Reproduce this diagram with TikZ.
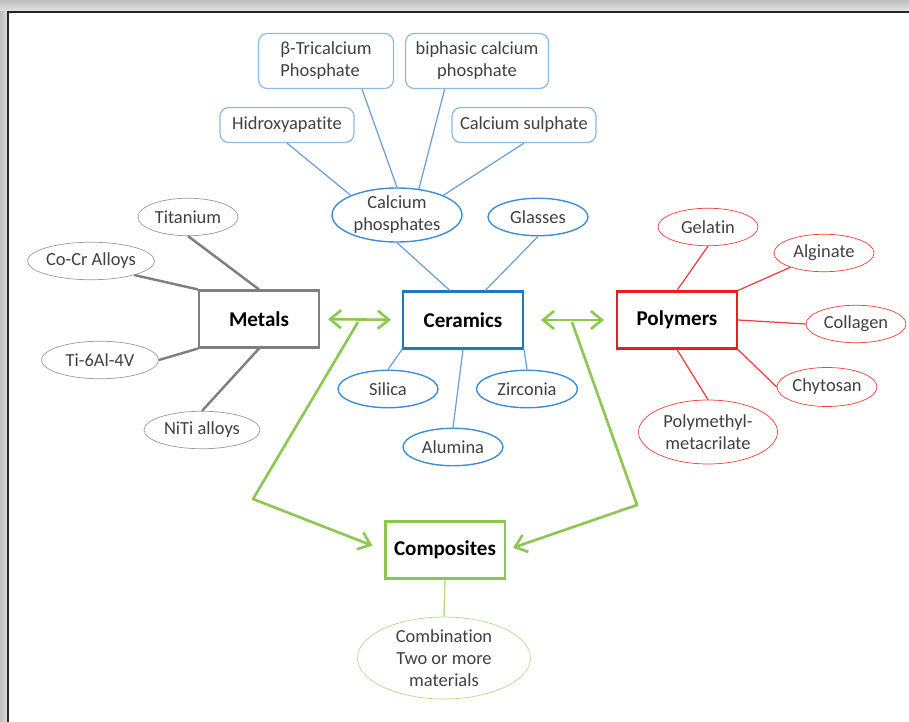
\documentclass[tikz,border=0pt]{standalone}
\usepackage{fontspec}
\setmainfont{Carlito}[RawFeature={-liga;-clig;-dlig}]
\usetikzlibrary{shapes.geometric,arrows.meta}

\definecolor{metgray}{HTML}{7F7F7F}
\definecolor{leafgray}{HTML}{9A9A9A}
\definecolor{cerblue}{HTML}{1F77C8}
\definecolor{leafblue}{HTML}{3C8ED6}
\definecolor{lineblue}{HTML}{6A9FD4}
\definecolor{boxblue}{HTML}{8DBAE2}
\definecolor{polred}{HTML}{EE1C1C}
\definecolor{leafred}{HTML}{F03C3C}
\definecolor{compgreen}{HTML}{8CC851}
\definecolor{lightgreen}{HTML}{B4DC8E}
\definecolor{labelgray}{HTML}{404040}

\begin{document}
\begin{tikzpicture}[x=0.02cm,y=-0.02cm,
  hub node/.style={rectangle,draw,line width=1.2pt,minimum width=2.4cm,minimum height=1.14cm,font=\fontsize{12}{14}\selectfont\bfseries},
  leaf node/.style={ellipse,draw,inner sep=0pt,minimum width=2cm,minimum height=0.75cm,text=labelgray,align=center,font=\fontsize{10.5}{12.5}\selectfont},
  top node/.style={rectangle,rounded corners=5pt,draw=boxblue,line width=0.7pt,inner sep=0pt,minimum height=0.7cm,text=labelgray,align=center,font=\fontsize{10.5}{12.5}\selectfont},
  gray edge/.style={draw=metgray,line width=1.4pt},
  blue edge/.style={draw=lineblue,line width=0.7pt},
  red edge/.style={draw=leafred,line width=0.7pt},
  green arrow/.style={draw=compgreen,line width=1.5pt,line join=round,arrows={-Straight Barb[length=2.2mm,width=3.6mm]}}]

  \useasboundingbox (0,0) rectangle (909,722);
  \shade[top color=gray!50,bottom color=gray!20] (0,0) rectangle (909,12);
  \shade[left color=gray!50,right color=gray!25] (0,12) rectangle (8,722);
  \draw[black!85,line width=1.2pt] (8,722) -- (8,12) -- (909,12);

  \node[hub node,draw=metgray] (met) at (259,319) {Metals};
  \node[hub node,draw=cerblue] (cer) at (463,320) {Ceramics};
  \node[hub node,draw=polred] (pol) at (677,320) {Polymers};
  \node[hub node,draw=compgreen,line width=1.7pt] (comp) at (445,550) {Composites};

  \node[leaf node,draw=leafgray] (tit) at (188,217) {Titanium};
  \node[leaf node,draw=leafgray,minimum width=2.32cm] (cocr) at (91,261) {Co-Cr Alloys};
  \node[leaf node,draw=leafgray,minimum width=2.34cm] (ti64) at (100,360) {Ti-6Al-4V};
  \node[leaf node,draw=leafgray,minimum width=2.32cm] (niti) at (202,430) {NiTi alloys};

  \node[top node,align=left,minimum width=2.7cm,minimum height=1.1cm] (btcp) at (326,61) {β-Tricalcium\\Phosphate};
  \node[top node,minimum width=2.86cm,minimum height=1.1cm] (bcp) at (477,61) {biphasic calcium\\phosphate};
  \node[top node,minimum width=2.68cm] (hap) at (287,125) {Hidroxyapatite};
  \node[top node,minimum width=2.88cm] (csul) at (524,125) {Calcium sulphate};
  \node[leaf node,draw=leafblue,line width=0.8pt,minimum width=2.6cm,minimum height=1.08cm] (cap) at (397,215) {Calcium\\phosphates};
  \node[leaf node,draw=leafblue,line width=0.8pt] (gla) at (538,217) {Glasses};
  \node[leaf node,draw=leafblue,line width=0.8pt] (sil) at (388,389) {Silica};
  \node[leaf node,draw=leafblue,line width=0.8pt,minimum width=2.02cm] (zir) at (527,389) {Zirconia};
  \node[leaf node,draw=leafblue,line width=0.8pt] (alu) at (453,447) {Alumina};

  \node[leaf node,draw=leafred] (gel) at (708,227) {Gelatin};
  \node[leaf node,draw=leafred] (alg) at (824,253) {Alginate};
  \node[leaf node,draw=leafred] (col) at (856,324) {Collagen};
  \node[leaf node,draw=leafred,minimum height=0.78cm] (chy) at (827,387) {Chytosan};
  \node[leaf node,draw=leafred,minimum width=2.78cm,minimum height=1.28cm] (pmma) at (708,432) {Polymethyl-\\metacrilate};

  \node[leaf node,draw=lightgreen,minimum width=3.46cm,minimum height=1.64cm] (comb) at (444,658) {Combination\\Two or more\\materials};

  \coordinate (lj) at (358,322);
  \coordinate (lb) at (253,499);
  \coordinate (rj) at (572,322);
  \coordinate (rb) at (637,505);

  \path[] (tit.south) [gray edge] edge node [] {} (met.north);
  \path[] (cocr.-18) [gray edge] edge node [] {} (met.north west);
  \path[] (ti64.east) [gray edge] edge node [] {} (met.south west);
  \path[] (niti.north) [gray edge] edge node [] {} (met.south);

  \path[] (hap.south) [blue edge] edge node [] {} (cap.157);
  \path[] (btcp.-38) [blue edge] edge node [] {} (cap.north);
  \path[] (bcp.-139) [blue edge] edge node [] {} (cap.50);
  \path[] (csul.south) [blue edge] edge node [] {} (cap.23);
  \path[] (cap.south) [blue edge] edge node [] {} (cer.114);
  \path[] (gla.south) [blue edge] edge node [] {} (cer.53);
  \path[] (sil.north) [blue edge] edge node [] {} (cer.south west);
  \path[] (alu.north) [blue edge] edge node [] {} (cer.south);
  \path[] (zir.north) [blue edge] edge node [] {} (cer.south east);

  \path[] (gel.south) [red edge] edge node [] {} (pol.north);
  \path[] (alg.-157) [red edge] edge node [] {} (pol.north east);
  \path[] (col.west) [red edge] edge node [] {} (pol.east);
  \path[] (chy.west) [red edge] edge node [] {} (pol.south east);
  \path[] (pmma.north) [red edge] edge node [] {} (pol.south);

  \path[] (comp.south) [draw=lightgreen,line width=0.8pt] edge node [] {} (comb.north);

  \draw[green arrow,arrows={Straight Barb[length=2.2mm,width=3.6mm]-Straight Barb[length=2.2mm,width=3.6mm]},shorten <=0.16cm,shorten >=0.22cm] (met.east) -- (cer.west);
  \draw[green arrow,arrows={Straight Barb[length=2.2mm,width=3.6mm]-Straight Barb[length=2.2mm,width=3.6mm]},shorten <=0.34cm,shorten >=0.24cm] (cer.east) -- (pol.west);
  \draw[green arrow,shorten >=0.24cm] (lj) -- (lb) -- (comp.west);
  \draw[green arrow,shorten >=0.14cm] (rj) -- (rb) -- (comp.east);
\end{tikzpicture}
\end{document}
